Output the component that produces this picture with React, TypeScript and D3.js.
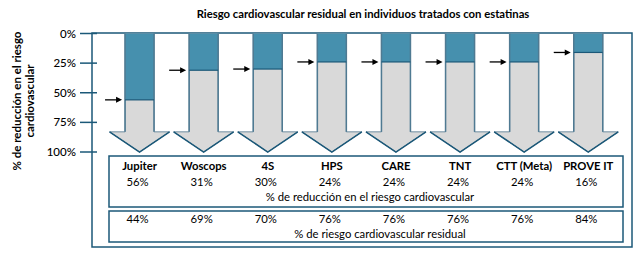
import React from "react";
import * as d3 from "d3";

const studies = ["Jupiter", "Woscops", "4S", "HPS", "CARE", "TNT", "CTT (Meta)", "PROVE IT"];
const reduction = [56, 31, 30, 24, 24, 24, 24, 16];
const residual = [44, 69, 70, 76, 76, 76, 76, 84];
const yTicks = [0, 25, 50, 75, 100];

const W = 644;
const H = 258;
const FONT = "Lato, 'Open Sans', sans-serif";
const DARK = "#1b5878";
const TEAL = "#4690ae";
const GREY = "#d9d9d9";

export default function App() {
  const y = d3.scaleLinear().domain([0, 100]).range([33.5, 152]);
  const x = d3.scaleBand<string>().domain(studies).range([107.5, 620.3]);

  const shaftW = 29;
  const headW = 60;
  const headTop = y(83);

  return (
    <svg width={W} height={H} style={{ position: "absolute", left: 0, top: 0, background: "#fff" }} fontFamily={FONT}>
      <text x={363} y={18} textAnchor="middle" fontSize={11.3} fontWeight="bold">
        Riesgo cardiovascular residual en individuos tratados con estatinas
      </text>

      {/* outer frame */}
      <rect x={92} y={33} width={540} height={214} fill="none" stroke={DARK} strokeWidth={1.5} />

      {/* y axis ticks */}
      {yTicks.map((t) => (
        <g key={t}>
          <line x1={80} x2={97} y1={y(t)} y2={y(t)} stroke={DARK} strokeWidth={1.5} />
          <text x={76} y={y(t) + 4} textAnchor="end" fontSize={11.5} fontWeight={500}>
            {t}%
          </text>
        </g>
      ))}

      <g transform="translate(24,101) rotate(-90)" fontSize={11.5} fontWeight="bold" textAnchor="middle">
        <text x={0} y={-3}>% de reducción en el riesgo</text>
        <text x={0} y={10}>cardiovascular</text>
      </g>

      {/* arrows */}
      {studies.map((s, i) => {
        const cx = (x(s) as number) + x.bandwidth() / 2;
        const l = cx - shaftW / 2;
        const r = cx + shaftW / 2;
        const lvl = y(reduction[i]);
        const arrow = [
          [l, y(0)],
          [r, y(0)],
          [r, headTop],
          [cx + headW / 2, headTop],
          [cx, y(100)],
          [cx - headW / 2, headTop],
          [l, headTop],
        ];
        return (
          <g key={s}>
            <polygon points={arrow.map((p) => p.join(",")).join(" ")} fill={GREY} stroke="#6f8da0" strokeWidth={1} />
            <rect x={l} y={y(0)} width={shaftW} height={lvl - y(0)} fill={TEAL} />
            <line x1={l} x2={l} y1={y(0)} y2={headTop} stroke="#4f7a92" strokeWidth={1.5} />
            <line x1={r} x2={r} y1={y(0)} y2={headTop} stroke="#4f7a92" strokeWidth={1.5} />
            <line x1={l} x2={r} y1={lvl} y2={lvl} stroke={DARK} strokeWidth={1.2} />
            <polyline
              points={`${cx - headW / 2},${headTop} ${cx},${y(100)} ${cx + headW / 2},${headTop}`}
              fill="none"
              stroke={DARK}
              strokeWidth={1.5}
            />
            {/* pointer */}
            <line x1={l - 20} x2={l - 8} y1={lvl} y2={lvl} stroke="#000" strokeWidth={1.3} />
            <polygon points={`${l - 9},${lvl - 3} ${l - 3},${lvl} ${l - 9},${lvl + 3}`} fill="#000" />
          </g>
        );
      })}

      {/* table */}
      <rect x={109} y={156} width={514} height={51} fill="none" stroke={DARK} strokeWidth={1.5} />
      <rect x={109} y={211} width={514} height={31} fill="none" stroke={DARK} strokeWidth={1.5} />
      {studies.map((s, i) => {
        const cx = (x(s) as number) + x.bandwidth() / 2;
        return (
          <g key={s} fontSize={11.3} textAnchor="middle">
            <text x={cx} y={170} fontWeight="bold">{s}</text>
            <text x={cx - 2} y={186}>{reduction[i]}%</text>
            <text x={cx - 2} y={223}>{residual[i]}%</text>
          </g>
        );
      })}
      <text x={370} y={201} textAnchor="middle" fontSize={11.3}>% de reducción en el riesgo cardiovascular</text>
      <text x={380} y={238} textAnchor="middle" fontSize={11.3}>% de riesgo cardiovascular residual</text>
    </svg>
  );
}
